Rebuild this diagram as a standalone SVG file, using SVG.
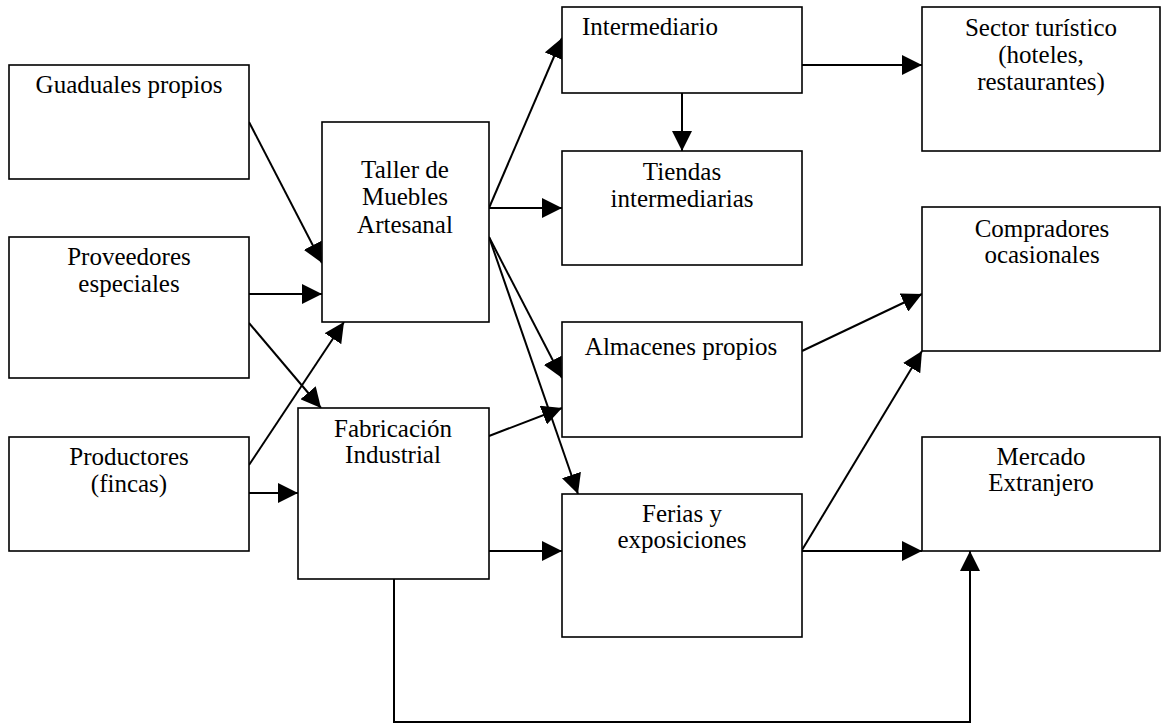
<svg xmlns="http://www.w3.org/2000/svg" width="1161" height="724" viewBox="0 0 1161 724">
<style>
.box{fill:#fff;stroke:#000;stroke-width:1.6}
.t{font-family:'Liberation Serif',Tinos,'Times New Roman',Times,'Nimbus Roman','DejaVu Serif',serif;font-size:25px;fill:#000;text-anchor:middle}
.c{fill:none;stroke:#000;stroke-width:2;marker-end:url(#ah)}
</style>
<defs>
<marker id="ah" markerUnits="userSpaceOnUse" markerWidth="20" markerHeight="20" refX="20" refY="10" orient="auto" viewBox="0 0 20 20">
<path d="M0,0 L20,10 L0,20 z" fill="#000"/>
</marker>
</defs>
<rect width="1161" height="724" fill="#fff"/>
<g id="connectors">
<line class="c" x1="249" y1="122" x2="322" y2="263"/>
<line class="c" x1="249" y1="294" x2="322" y2="294"/>
<line class="c" x1="249" y1="323" x2="321" y2="408"/>
<line class="c" x1="249" y1="465" x2="344" y2="322"/>
<line class="c" x1="249" y1="493" x2="298" y2="493"/>
<line class="c" x1="489" y1="208" x2="562" y2="38"/>
<line class="c" x1="489" y1="208" x2="562" y2="208"/>
<line class="c" x1="489" y1="237" x2="562" y2="378"/>
<line class="c" x1="489" y1="237" x2="578" y2="494"/>
<line class="c" x1="489" y1="436" x2="562" y2="408"/>
<line class="c" x1="489" y1="551" x2="562" y2="551"/>
<line class="c" x1="682" y1="93" x2="682" y2="151"/>
<line class="c" x1="802" y1="65" x2="922" y2="65"/>
<line class="c" x1="802" y1="351" x2="922" y2="294"/>
<line class="c" x1="802" y1="550" x2="922" y2="351"/>
<line class="c" x1="802" y1="551" x2="922" y2="551"/>
<polyline class="c" points="394,579 394,722 970,722 970,551"/>
</g>
<g id="guaduales">
<rect class="box" x="9" y="65" width="240" height="114"/>
<text class="t" x="129" y="93">Guaduales propios</text>
</g>
<g id="proveedores">
<rect class="box" x="9" y="237" width="240" height="141"/>
<text class="t" x="129" y="265">Proveedores</text>
<text class="t" x="129" y="292">especiales</text>
</g>
<g id="productores">
<rect class="box" x="9" y="437" width="240" height="114"/>
<text class="t" x="129" y="465">Productores</text>
<text class="t" x="129" y="492">(fincas)</text>
</g>
<g id="taller">
<rect class="box" x="322" y="122" width="167" height="200"/>
<text class="t" x="405" y="178">Taller de</text>
<text class="t" x="405" y="205">Muebles</text>
<text class="t" x="405" y="233">Artesanal</text>
</g>
<g id="fabricacion">
<rect class="box" x="298" y="408" width="191" height="171"/>
<text class="t" x="393" y="437">Fabricación</text>
<text class="t" x="393" y="463">Industrial</text>
</g>
<g id="intermediario">
<rect class="box" x="562" y="7" width="240" height="86"/>
<text class="t" x="582" y="35" style="text-anchor:start">Intermediario</text>
</g>
<g id="tiendas">
<rect class="box" x="562" y="151" width="240" height="114"/>
<text class="t" x="682" y="180">Tiendas</text>
<text class="t" x="682" y="207">intermediarias</text>
</g>
<g id="almacenes">
<rect class="box" x="562" y="322" width="240" height="115"/>
<text class="t" x="681" y="355">Almacenes propios</text>
</g>
<g id="ferias">
<rect class="box" x="562" y="494" width="240" height="143"/>
<text class="t" x="682" y="522">Ferias y</text>
<text class="t" x="682" y="548">exposiciones</text>
</g>
<g id="sector">
<rect class="box" x="922" y="7" width="238" height="144"/>
<text class="t" x="1041" y="36">Sector turístico</text>
<text class="t" x="1041" y="63">(hoteles,</text>
<text class="t" x="1041" y="90">restaurantes)</text>
</g>
<g id="compradores">
<rect class="box" x="922" y="207" width="238" height="144"/>
<text class="t" x="1042" y="237">Compradores</text>
<text class="t" x="1042" y="263">ocasionales</text>
</g>
<g id="mercado">
<rect class="box" x="922" y="437" width="238" height="114"/>
<text class="t" x="1041" y="465">Mercado</text>
<text class="t" x="1041" y="491">Extranjero</text>
</g>
</svg>
